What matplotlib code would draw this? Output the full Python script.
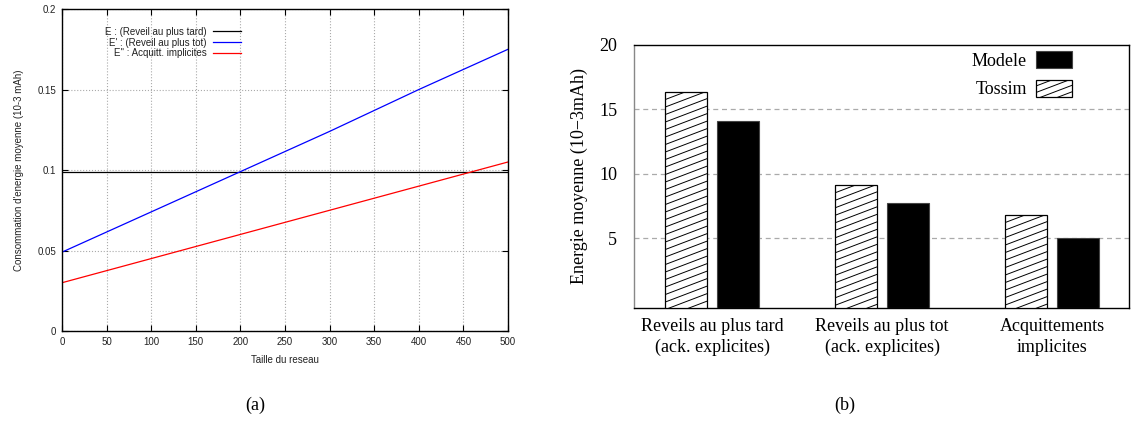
import numpy as np
import matplotlib
matplotlib.use('Agg')
import matplotlib.pyplot as plt
from matplotlib.lines import Line2D
from matplotlib.patches import Patch
from matplotlib.transforms import IdentityTransform

# (a) energy vs network size
network_size = [0, 100, 200, 300, 400, 500]
energy_late = [0.099, 0.099, 0.099, 0.099, 0.099, 0.099]
energy_early = [0.049, 0.074, 0.099, 0.124, 0.150, 0.175]
energy_implicit = [0.030, 0.045, 0.060, 0.075, 0.090, 0.105]
line_labels = ['E : (Reveil au plus tard)', "E' : (Reveil au plus tot)", "E'' : Acquitt. implicites"]

# (b) model vs simulation
categories = ['Reveils au plus tard\n(ack. explicites)',
              'Reveils au plus tot\n(ack. explicites)',
              'Acquittements\nimplicites']
tossim = [16.35, 9.12, 6.81]
modele = [14.1, 7.75, 5.02]


def shallow_hatch(fig, bbox, step=7.5, slope=0.38):
    # gnuplot style hatch: thin lines less steep than matplotlib's 45 degrees
    x0, y0, x1, y1 = bbox.x0, bbox.y0, bbox.x1, bbox.y1
    rise = (x1 - x0) * slope
    for start in np.arange(y1, y0 - rise, -step):
        ln = Line2D([x0, x1], [start, start + rise], color='black', lw=0.7,
                    transform=IdentityTransform(), zorder=5)
        ln.set_clip_box(bbox)
        fig.add_artist(ln)


def main():
    fig = plt.figure(figsize=(11.34, 4.24), dpi=100)

    # ---- left panel (gnuplot look) ----
    sans = 'Liberation Sans'
    ax1 = fig.add_axes([0.0547, 0.2193, 0.3933, 0.7594])
    ax1.plot(network_size, energy_late, color='black', lw=0.9, label=line_labels[0])
    ax1.plot(network_size, energy_early, color='#0000ff', lw=0.9, label=line_labels[1])
    ax1.plot(network_size, energy_implicit, color='#ff0000', lw=0.9, label=line_labels[2])
    ax1.set_xlim(0, 500)
    ax1.set_ylim(0, 0.2)
    ax1.set_xticks(np.arange(0, 501, 50))
    ax1.set_yticks([0, 0.05, 0.1, 0.15, 0.2])
    ax1.set_yticklabels(['0', '0.05', '0.1', '0.15', '0.2'])
    ax1.tick_params(direction='in', length=4, width=0.8, top=True, right=True,
                    labelsize=7, pad=4)
    for lab in ax1.get_xticklabels() + ax1.get_yticklabels():
        lab.set_family(sans)
        lab.set_color('#222222')
    ax1.grid(True, linestyle=':', color='#aaaaaa', lw=0.8)
    for sp in ax1.spines.values():
        sp.set_linewidth(1.0)
    ax1.set_xlabel('Taille du reseau', family=sans, fontsize=7, color='#222222', labelpad=6)
    ax1.set_ylabel("Consommation d'energie moyenne (10-3 mAh)", family=sans, fontsize=7,
                   color='#222222', labelpad=10)
    leg1 = ax1.legend(loc='upper right', bbox_to_anchor=(0.401, 0.945), frameon=False,
                      markerfirst=False, prop={'family': sans, 'size': 7},
                      handlelength=2.9, labelspacing=0.08, handletextpad=0.6,
                      borderaxespad=0, borderpad=0)
    for t in leg1.get_texts():
        t.set_ha('right')
        t.set_color('#222222')
    leg1._legend_box.align = 'right'

    # ---- right panel (bars) ----
    serif = 'Liberation Serif'
    ax2 = fig.add_axes([0.5591, 0.2736, 0.4365, 0.6203])
    x = np.arange(len(categories))
    width = 0.245
    offset = 0.153
    y_min = -0.4
    bars_t = ax2.bar(x - offset, np.array(tossim) - y_min, width, bottom=y_min, color='white',
                     edgecolor='black', lw=0.9, zorder=3)
    ax2.bar(x + offset, np.array(modele) - y_min, width, bottom=y_min, color='black',
            edgecolor='#444444', lw=0.8, zorder=3)
    ax2.set_xlim(-0.459, 2.453)
    ax2.set_ylim(y_min, 20)
    ax2.set_yticks([5, 10, 15, 20])
    ax2.set_xticks(x)
    ax2.set_xticklabels(categories, family=serif, fontsize=13, linespacing=1.3)
    for lab in ax2.get_yticklabels():
        lab.set_family(serif)
        lab.set_fontsize(13)
    ax2.tick_params(axis='y', length=0, pad=12)
    ax2.tick_params(axis='x', length=0, pad=7)
    for yv in [5, 10, 15]:
        ax2.axhline(yv, color='#aaaaaa', ls=(0, (4, 3)), lw=0.9, zorder=1)
    ax2.spines['left'].set_color('#888888')
    for sp in ax2.spines.values():
        sp.set_linewidth(1.0)
    ax2.set_ylabel('Energie moyenne (10\u22123mAh)', family=serif, fontsize=13, labelpad=8)
    handles = [Patch(facecolor='black', edgecolor='#444444', lw=0.8),
               Patch(facecolor='white', edgecolor='black', lw=0.9)]
    leg2 = ax2.legend(handles, ['Modele', 'Tossim'], loc='upper right',
                      bbox_to_anchor=(0.885, 0.978), frameon=False, markerfirst=False,
                      prop={'family': serif, 'size': 13}, handlelength=2.0,
                      handleheight=1.1, labelspacing=0.55, handletextpad=0.5,
                      borderaxespad=0, borderpad=0)

    # captions
    fig.text(0.225, 0.045, '(a)', family=serif, fontsize=13, ha='center', va='center')
    fig.text(0.745, 0.045, '(b)', family=serif, fontsize=13, ha='center', va='center')

    # hatching drawn once the layout is fixed
    fig.canvas.draw()
    for rect in bars_t:
        shallow_hatch(fig, rect.get_window_extent())
    shallow_hatch(fig, leg2.get_patches()[1].get_window_extent(), step=6.5)

    plt.savefig('out.png', dpi=100)


if __name__ == "__main__":
    main()
